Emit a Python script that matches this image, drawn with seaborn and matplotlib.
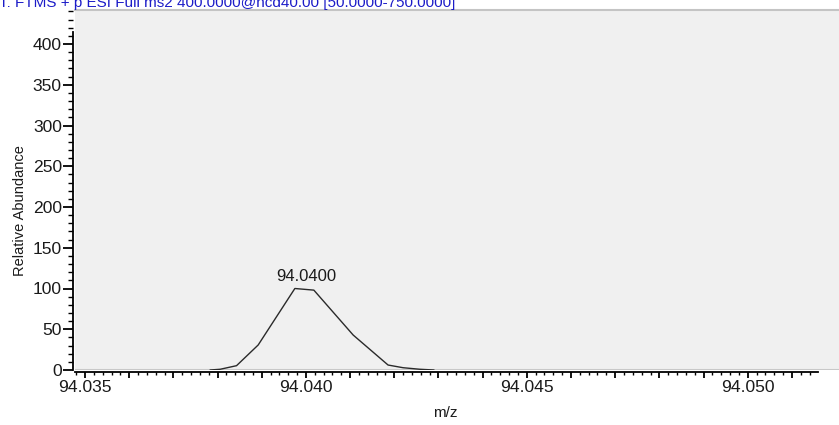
import numpy as np
import pandas as pd
import matplotlib
matplotlib.use("Agg")
import matplotlib.pyplot as plt
from matplotlib.ticker import FixedLocator, MultipleLocator, FuncFormatter
import seaborn as sns

# ---- data ----
mz = [94.03783, 94.03806, 94.03843, 94.03892, 94.03975, 94.04018,
      94.04107, 94.04186, 94.04220, 94.04258, 94.04290]
abundance = [0.0, 0.9, 5.3, 30.7, 100.0, 98.0, 42.9, 6.1, 2.8, 0.9, 0.0]
peak_label = "94.0400"
peak_label_mz = 94.0400
title = "T: FTMS + p ESI Full ms2 400.0000@hcd40.00 [50.0000-750.0000]"
xlabel = "m/z"
ylabel = "Relative Abundance"
xticks_labeled = [94.035, 94.040, 94.045, 94.050]
yticks = [0, 50, 100, 150, 200, 250, 300, 350, 400]

sns.set_style("ticks")
plt.rcParams["font.family"] = ["Liberation Sans", "DejaVu Sans"]
plt.rcParams["font.size"] = 10.5

W, H = 839, 425
fig = plt.figure(figsize=(W / 100, H / 100), dpi=100)
ax_left, ax_right, ax_top, ax_bot = 75, 848, 10, 370
ax = fig.add_axes([ax_left / W, (H - ax_bot) / H, (ax_right - ax_left) / W, (ax_bot - ax_top) / H])

pxu = 44180.0
x0 = 94.035 - (85 - ax_left) / pxu
x1 = 94.035 + (ax_right - 85) / pxu
ax.set_xlim(x0, x1)
ax.set_ylim(0, (ax_bot - ax_top) / 0.815)

ax.set_facecolor("#f0f0f0")
df = pd.DataFrame({"mz": mz, "ab": abundance})
ax.axhline(0, color="#c8c8c8", lw=1.5, zorder=1)
sns.lineplot(data=df, x="mz", y="ab", ax=ax, color="#2a2a2a", lw=1.0, zorder=3)

tc = "#1a1a1a"
tfs = 12.6
# spines
for s in ["top", "right"]:
    ax.spines[s].set_color("#c4c4c4")
    ax.spines[s].set_linewidth(1.5)
for s in ["left", "bottom"]:
    ax.spines[s].set_color("black")
    ax.spines[s].set_linewidth(1.3)
    ax.spines[s].set_position(("outward", 1.5))
ax.spines["left"].set_bounds(0, 415)
ax.spines["bottom"].set_bounds(x0, 94.035 + (818 - 85) / pxu)

# x ticks: three levels
med_pos = [p for p in np.arange(94.035, 94.0516, 0.001)]
ax.xaxis.set_major_locator(FixedLocator(med_pos))
def xfmt(v, pos):
    for t in xticks_labeled:
        if abs(v - t) < 1e-7:
            return f"{t:.3f}"
    return ""
ax.xaxis.set_major_formatter(FuncFormatter(xfmt))
small_pos = [p for p in np.arange(94.0348, 94.0516, 0.0002)]
ax.xaxis.set_minor_locator(FixedLocator(small_pos))
ax.tick_params(axis="x", which="major", length=4, width=1.3, color="black",
               labelcolor=tc, labelsize=tfs, pad=2)
ax.tick_params(axis="x", which="minor", length=2.3, width=1.0, color="black")
for t in ax.xaxis.get_major_ticks():
    v = t.get_loc()
    if any(abs(v - q) < 1e-7 for q in xticks_labeled):
        t.tick1line.set_markersize(8)

ax.yaxis.set_major_locator(FixedLocator(yticks))
ax.yaxis.set_minor_locator(MultipleLocator(10))
ax.tick_params(axis="y", which="major", length=7.5, width=1.3, color="black",
               labelcolor=tc, labelsize=tfs, pad=0.5)
ax.tick_params(axis="y", which="minor", length=3.5, width=1.0, color="black")
ax.set_xlabel("")
ax.set_ylabel("")

fig.text(445 / W, (H - 413) / H, xlabel, ha="center", va="center", color=tc, fontsize=11)
fig.text(20 / W, (H - 211) / H, ylabel, ha="center", va="center", rotation=90, color=tc, fontsize=10.5)

ax.annotate(peak_label, xy=(peak_label_mz, max(abundance)), xytext=(0, 3),
            textcoords="offset points", ha="center", va="bottom", color=tc, fontsize=12)

fig.text(-1 / W, (H - 6.7) / H, title, ha="left", va="baseline", color="#1c1cc8", fontsize=11)

fig.savefig("out.png", dpi=100)
